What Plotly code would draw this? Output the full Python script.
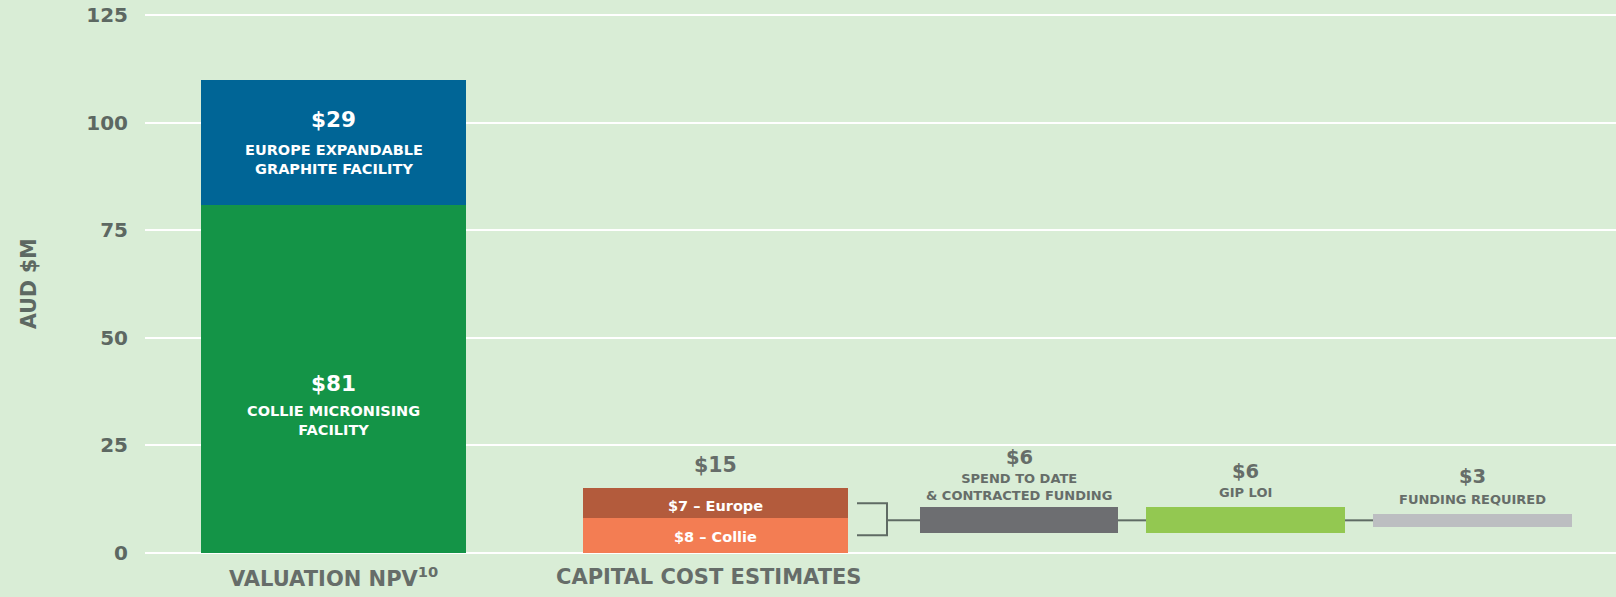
import plotly.graph_objects as go

# ---------------- data ----------------
npv_labels = ["COLLIE MICRONISING<br>FACILITY", "EUROPE EXPANDABLE<br>GRAPHITE FACILITY"]
npv_values = [81, 29]                      # Collie, Europe
capex_labels = ["$8 – Collie", "$7 – Europe"]
capex_values = [8, 7]                      # Collie, Europe
capex_total = 15
fund_names = ["SPEND TO DATE<br>& CONTRACTED FUNDING", "GIP LOI", "FUNDING REQUIRED"]
fund_values = [6, 6, 3]
category_labels = ["VALUATION NPV<sup>10</sup>", "CAPITAL COST ESTIMATES"]
y_ticks = [0, 25, 50, 75, 100, 125]

# ---------------- layout constants (positions / styles) ----------------
X_NPV, X_CAPEX = 1.885, 5.705
X_FUND = [8.74, 11.005, 13.275]
W_BIG = 2.65
W_FUND = [1.98, 1.99, 1.99]
BG = "#d9edd6"
TXT = "#666d69"
TICK = "#5d6862"
LINE = "#5f6b64"
FONT = "DejaVu Sans"

C_NPV = ["#149447", "#006596"]
C_CAPEX = ["#f37d53", "#b35b3c"]
C_FUND = ["#6d6e71", "#93c851", "#bcbec1"]

fig = go.Figure()

# NPV stacked bar
base = 0
for v, c in zip(npv_values, C_NPV):
    fig.add_trace(go.Bar(x=[X_NPV], y=[v], base=[base], width=[W_BIG],
                         marker=dict(color=c, line=dict(width=0)), hoverinfo="skip"))
    base += v

# Capex stacked bar
base = 0
for v, c in zip(capex_values, C_CAPEX):
    fig.add_trace(go.Bar(x=[X_CAPEX], y=[v], base=[base], width=[W_BIG],
                         marker=dict(color=c, line=dict(width=0)), hoverinfo="skip"))
    base += v

# floating funding bars centred on the capex mid-point
mid = capex_total / 2
for xc, w, v, c in zip(X_FUND, W_FUND, fund_values, C_FUND):
    fig.add_trace(go.Bar(x=[xc], y=[v], base=[mid - v / 2], width=[w],
                         marker=dict(color=c, line=dict(width=0)), hoverinfo="skip"))

# bracket from capex segments to first funding bar
cap_right = X_CAPEX + W_BIG / 2
seg_mid_collie = capex_values[0] / 2
seg_mid_europe = capex_values[0] + capex_values[1] / 2
bx0, bx1 = cap_right + 0.09, cap_right + 0.39
fig.add_trace(go.Scatter(
    x=[bx0, bx1, bx1, bx0, None, bx1, X_FUND[0] - W_FUND[0] / 2],
    y=[seg_mid_europe, seg_mid_europe, seg_mid_collie, seg_mid_collie, None, mid, mid],
    mode="lines", line=dict(color=LINE, width=2), hoverinfo="skip"))
# connectors between funding bars
for i in range(len(X_FUND) - 1):
    fig.add_trace(go.Scatter(
        x=[X_FUND[i] + W_FUND[i] / 2, X_FUND[i + 1] - W_FUND[i + 1] / 2],
        y=[mid, mid], mode="lines", line=dict(color=LINE, width=2), hoverinfo="skip"))

ann = []
def A(x, y, text, size, color, yshift=0, **kw):
    d = dict(x=x, y=y, text=text, showarrow=False, yshift=yshift,
             font=dict(family=FONT, size=size, color=color, weight="bold"),
             xanchor="center", yanchor="middle")
    d.update(kw)
    ann.append(d)

# NPV labels
top_npv = sum(npv_values)
A(X_NPV, top_npv, f"${npv_values[1]}", 21.5, "white", yshift=-40)
A(X_NPV, top_npv, npv_labels[1], 14.5, "white", yshift=-80)
A(X_NPV, npv_values[0], f"${npv_values[0]}", 21.5, "white", yshift=-179)
A(X_NPV, npv_values[0], npv_labels[0], 14.5, "white", yshift=-216)

# Capex labels
A(X_CAPEX, capex_total, f"${capex_total}", 20.5, TXT, yshift=23)
A(X_CAPEX, seg_mid_europe, capex_labels[1], 14.5, "white", yshift=-3)
A(X_CAPEX, seg_mid_collie, capex_labels[0], 14.5, "white", yshift=-2)

# funding labels
val_shift = [50, 36, 37]
name_shift = [20, 15, 14]
for xc, v, n, vs, ns in zip(X_FUND, fund_values, fund_names, val_shift, name_shift):
    top = mid + v / 2
    A(xc, top, f"${v}", 19.5, TXT, yshift=vs)
    A(xc, top, n, 13, TXT, yshift=ns)

# category labels
A(X_NPV, 0, category_labels[0], 21, TXT, yshift=-24)
A(X_CAPEX - 0.07, 0, category_labels[1], 21, TXT, yshift=-24)

# y axis title
ann.append(dict(x=0, y=0.5, xref="paper", yref="paper", xshift=-116, text="AUD $M",
                textangle=-90, showarrow=False,
                font=dict(family=FONT, size=20.5, color=TICK, weight="bold"),
                xanchor="center", yanchor="middle"))

fig.update_layout(
    width=1616, height=597,
    margin=dict(l=145, r=0, t=8.5, b=37.5),
    paper_bgcolor=BG, plot_bgcolor=BG,
    showlegend=False, barmode="overlay", bargap=0,
    annotations=ann,
    xaxis=dict(range=[0, 14.71], visible=False, fixedrange=True),
    yaxis=dict(range=[-1.5, 126.5], tickvals=y_ticks, ticktext=[str(t) for t in y_ticks],
               showgrid=True, gridcolor="white", gridwidth=2, zeroline=False,
               showline=False, ticks="", ticklabelstandoff=16,
               tickfont=dict(family=FONT, size=20, color=TICK, weight="bold"),
               fixedrange=True),
)

fig.write_html("out.html", config={"displayModeBar": False},
               post_script="document.body.style.margin='0';document.body.style.overflow='hidden';")
